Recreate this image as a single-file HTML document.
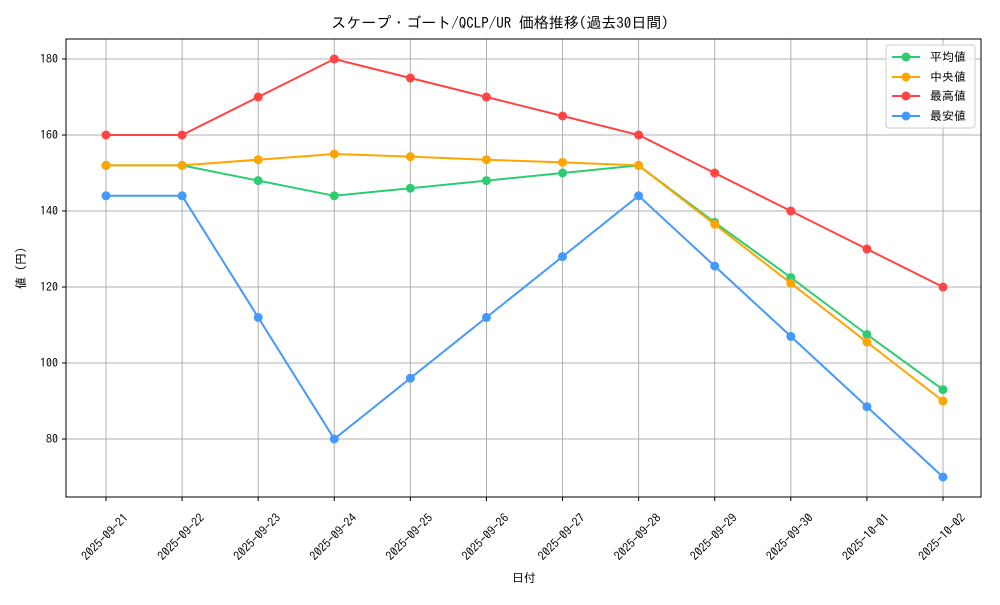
<!DOCTYPE html>
<html><head><meta charset="utf-8"><style>
body{margin:0;background:#fff}
svg text{font-family:"IPAGothic","Noto Sans CJK JP",sans-serif;fill:#000}
</style></head><body>
<svg width="1000" height="600" xmlns="http://www.w3.org/2000/svg">
<rect width="1000" height="600" fill="#fff"/>
<g id="grid" stroke="#b0b0b0" stroke-width="1"></g>
<rect x="66" y="39" width="915" height="458" fill="none" stroke="#000" stroke-width="1"/>
<g id="ticks"></g>
<g id="series"></g>
<text x="500" y="28" font-size="15" text-anchor="middle">スケープ・ゴート/QCLP/UR 価格推移(過去30日間)</text>
<text x="524" y="582" font-size="12" text-anchor="middle">日付</text>
<text transform="translate(25,268) rotate(-90)" font-size="12" text-anchor="middle">値 (円)</text>
<g>
<rect x="886" y="45" width="89" height="83" fill="#fff" fill-opacity="0.8" stroke="#ccc" rx="3"/>
<line x1="892" y1="57" x2="920" y2="57" stroke="#2ecc71" stroke-width="2"/><circle cx="906" cy="57" r="4.5" fill="#2ecc71"/>
<text x="930" y="61" font-size="12">平均値</text>
<line x1="892" y1="77" x2="920" y2="77" stroke="#ffa500" stroke-width="2"/><circle cx="906" cy="77" r="4.5" fill="#ffa500"/>
<text x="930" y="81" font-size="12">中央値</text>
<line x1="892" y1="96" x2="920" y2="96" stroke="#ff4444" stroke-width="2"/><circle cx="906" cy="96" r="4.5" fill="#ff4444"/>
<text x="930" y="100" font-size="12">最高値</text>
<line x1="892" y1="116" x2="920" y2="116" stroke="#4499ff" stroke-width="2"/><circle cx="906" cy="116" r="4.5" fill="#4499ff"/>
<text x="930" y="120" font-size="12">最安値</text>
</g>
</svg>
<script>
const ns="http://www.w3.org/2000/svg";
const X=i=>106+i*76.09, Y=v=>439-(v-80)*3.8;
const g=document.getElementById('grid'),t=document.getElementById('ticks'),s=document.getElementById('series');
function el(p,n,a,txt){const e=document.createElementNS(ns,n);for(const k in a)e.setAttribute(k,a[k]);if(txt)e.textContent=txt;p.appendChild(e);return e;}
const dates=["2025-09-21","2025-09-22","2025-09-23","2025-09-24","2025-09-25","2025-09-26","2025-09-27","2025-09-28","2025-09-29","2025-09-30","2025-10-01","2025-10-02"];
dates.forEach((d,i)=>{const x=X(i);el(g,'line',{x1:x,y1:39,x2:x,y2:497});el(t,'line',{x1:x,y1:497,x2:x,y2:501,stroke:'#000'});
el(t,'text',{transform:`translate(${x-1},537) rotate(-45)`,'font-size':12,'text-anchor':'middle',dy:4},d);});
for(let v=80;v<=180;v+=20){const y=Y(v);el(g,'line',{x1:66,y1:y,x2:981,y2:y});el(t,'line',{x1:62,y1:y,x2:66,y2:y,stroke:'#000'});
el(t,'text',{x:58,y:y+4,'font-size':12,'text-anchor':'end'},String(v));}
const S=[["#2ecc71",[152,152,148,144,146,148,150,152,137,122.5,107.5,93]],
["#ffa500",[152,152,153.5,155,154.3,153.5,152.8,152,136.5,121,105.5,90]],
["#ff4444",[160,160,170,180,175,170,165,160,150,140,130,120]],
["#4499ff",[144,144,112,80,96,112,128,144,125.5,107,88.5,70]]];
S.forEach(([c,d])=>{el(s,'polyline',{points:d.map((v,i)=>X(i)+','+Y(v)).join(' '),fill:'none',stroke:c,'stroke-width':2});
d.forEach((v,i)=>el(s,'circle',{cx:X(i),cy:Y(v),r:4.5,fill:c}));});
</script>
</body></html>
